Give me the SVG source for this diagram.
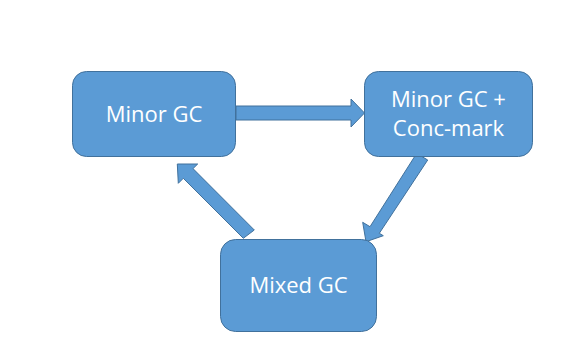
<svg xmlns="http://www.w3.org/2000/svg" width="585" height="358" viewBox="0 0 585 358">
<style>
.box{fill:#5B9BD5;stroke:#41719C;stroke-width:1}
.arrow{fill:#5B9BD5;stroke:#41719C;stroke-width:1;stroke-linejoin:miter}
.lbl{fill:#FFFFFF;font-family:"Open Sans","Liberation Sans",sans-serif;font-size:22px;text-anchor:middle}
</style>
<rect width="585" height="358" fill="#FFFFFF"/>
<g id="connectors">
<polygon class="arrow" points="236,106 351,106 351,99 364.5,113 351,127 351,120 236,120"/>
<polygon class="arrow" points="416.7,153.3 427.7,160 379.3,233.3 383.3,235.7 366,241.7 362.7,222.3 370,226.7"/>
<polygon class="arrow" points="243.3,238.3 254.3,230 193,168.6 197.7,164 177.3,164 178.3,183.3 183.3,178.3"/>
</g>
<g id="minor-gc">
<rect class="box" x="72.5" y="71.5" width="163" height="85" rx="14"/>
<text class="lbl" x="154" y="122">Minor GC</text>
</g>
<g id="minor-gc-conc-mark">
<rect class="box" x="364.5" y="71.5" width="168" height="85" rx="14"/>
<text class="lbl" x="448.5" y="107">Minor GC +</text>
<text class="lbl" x="448.5" y="136">Conc-mark</text>
</g>
<g id="mixed-gc">
<rect class="box" x="220.5" y="239.5" width="156" height="92" rx="15"/>
<text class="lbl" x="298.5" y="293">Mixed GC</text>
</g>
</svg>
